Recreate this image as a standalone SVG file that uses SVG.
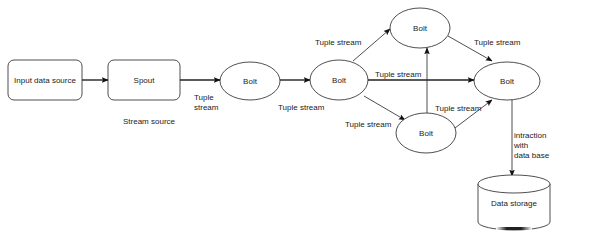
<svg xmlns="http://www.w3.org/2000/svg" width="598" height="244" viewBox="0 0 598 244">
<defs>
<style>
.n{fill:#fff;stroke:#222;stroke-width:0.8}
.t{font-family:"Liberation Sans",Arial,sans-serif;font-size:8px;fill:#222}
.c{text-anchor:middle}
.e{fill:none;stroke:#222;stroke-width:0.8;marker-end:url(#a)}
.b{stroke-width:1.4}
</style>
<marker id="a" viewBox="0 0 10 10" refX="9" refY="5" markerWidth="7" markerHeight="7" markerUnits="userSpaceOnUse" orient="auto">
<path d="M0,1 L10,5 L0,9 L2,5 Z" fill="#111"/>
</marker>
<linearGradient id="g" x1="0" y1="0" x2="1" y2="0">
<stop offset="0" stop-color="#fff"/><stop offset="0.3" stop-color="#222"/><stop offset="0.7" stop-color="#222"/><stop offset="1" stop-color="#fff"/>
</linearGradient>
</defs>
<rect width="598" height="244" fill="#fff"/>
<g id="connectors">
<line class="e b" x1="82" y1="80" x2="108" y2="80"/>
<line class="e b" x1="180" y1="80" x2="220" y2="80"/>
<line class="e b" x1="280" y1="80" x2="310" y2="80"/>
<line class="e" x1="353" y1="61" x2="390" y2="29"/>
<line class="e b" x1="368" y1="80" x2="474" y2="80"/>
<line class="e" x1="364" y1="96" x2="405" y2="120"/>
<line class="e" x1="448" y1="36" x2="492" y2="61"/>
<line class="e" x1="455" y1="128" x2="492" y2="100"/>
<line class="e" x1="427" y1="113" x2="427" y2="48"/>
<line class="e" x1="512" y1="100" x2="512" y2="176"/>
<text class="t" x="194" y="100">Tuple</text>
<text class="t" x="194" y="110">stream</text>
<text class="t" x="123" y="124">Stream source</text>
<text class="t" x="278" y="110">Tuple stream</text>
<text class="t" x="315" y="45">Tuple stream</text>
<text class="t" x="375" y="77">Tuple stream</text>
<text class="t" x="474" y="45">Tuple stream</text>
<text class="t" x="435" y="111">Tuple stream</text>
<text class="t" x="345" y="127">Tuple stream</text>
<text class="t" x="514" y="138">intraction</text>
<text class="t" x="514" y="148">with</text>
<text class="t" x="514" y="158">data base</text>
</g>
<g id="input">
<rect class="n" x="8" y="60" width="74" height="40" rx="6"/>
<text class="t c" x="45" y="83">Input data source</text>
</g>
<g id="spout">
<rect class="n" x="108" y="60" width="72" height="40" rx="6"/>
<text class="t c" x="144" y="83">Spout</text>
</g>
<g id="bolt1">
<ellipse class="n" cx="250" cy="81" rx="30" ry="19"/>
<text class="t c" x="250" y="84">Bolt</text>
</g>
<g id="bolt2">
<ellipse class="n" cx="339" cy="80" rx="29" ry="20"/>
<text class="t c" x="339" y="83">Bolt</text>
</g>
<g id="bolt-top">
<ellipse class="n" cx="420" cy="28" rx="30" ry="20"/>
<text class="t c" x="420" y="31">Bolt</text>
</g>
<g id="bolt-bottom">
<ellipse class="n" cx="426" cy="133" rx="30" ry="20"/>
<text class="t c" x="426" y="136">Bolt</text>
</g>
<g id="bolt-right">
<ellipse class="n" cx="507" cy="81" rx="33" ry="19"/>
<text class="t c" x="507" y="84">Bolt</text>
</g>
<g id="storage">
<path class="n" d="M478,184 L478,222 A36,8 0 0 0 550,222 L550,184"/>
<ellipse class="n" cx="514" cy="184" rx="36" ry="9"/>
<rect x="496" y="227" width="36" height="3" fill="url(#g)"/>
<text class="t c" x="514" y="206">Data storage</text>
</g>
</svg>
